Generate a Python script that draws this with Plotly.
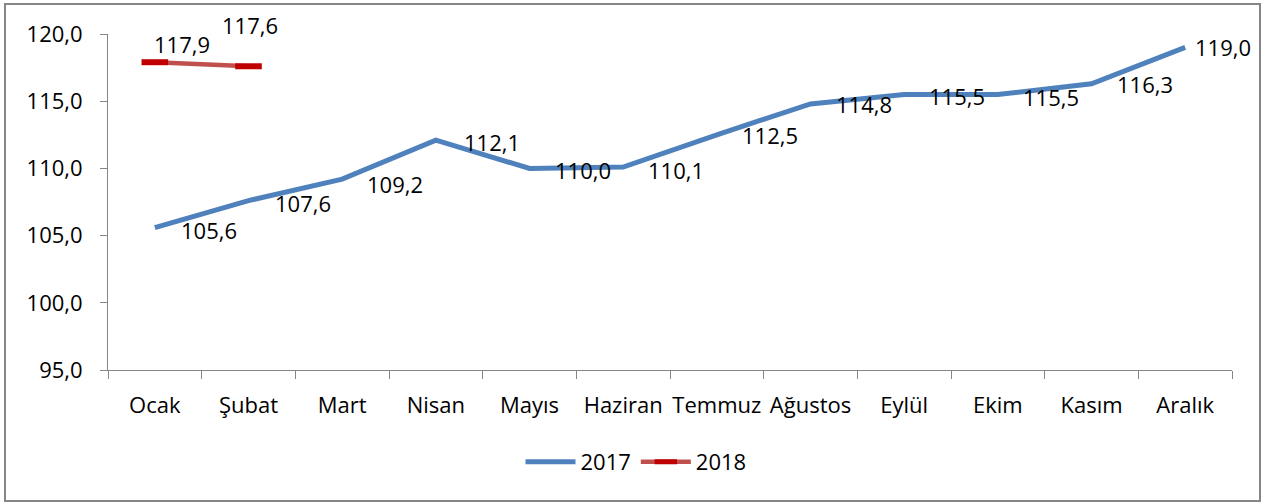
import plotly.graph_objects as go

months = ["Ocak", "Şubat", "Mart", "Nisan", "Mayıs", "Haziran", "Temmuz",
          "Ağustos", "Eylül", "Ekim", "Kasım", "Aralık"]
values_2017 = [105.6, 107.6, 109.2, 112.1, 110.0, 110.1, 112.5, 114.8, 115.5, 115.5, 116.3, 119.0]
values_2018 = [117.9, 117.6]
y_ticks = [95, 100, 105, 110, 115, 120]

# label offsets (pixels) - style only
off_2017_x = [24, 24, 23, 26, 23, 23, 23, 23, 23, 23, 23, 8]
off_2017_y = [-2, -2, -5, -2, -2, -3, 0, 0, -2, -3, 0, 0]
off_2018_x = [-3, -29]
off_2018_y = [18, 41]

FONT = "Open Sans"
FS = 22
GREY = "#868686"

def fmt(v):
    return f"{v:.1f}".replace(".", ",")

fig = go.Figure()
fig.add_trace(go.Scatter(
    x=months, y=values_2017, mode="lines", name="2017",
    line=dict(color="#4F81BD", width=5), hoverinfo="skip"))
fig.add_trace(go.Scatter(
    x=months[:len(values_2018)], y=values_2018, mode="lines+markers", name="2018",
    line=dict(color="#C0504D", width=4.5),
    marker=dict(symbol="line-ew", size=19, color="#C00000",
                line=dict(color="#C00000", width=6)),
    hoverinfo="skip"))

annotations = []
for i, (m, v) in enumerate(zip(months, values_2017)):
    annotations.append(dict(x=m, y=v, text=fmt(v), showarrow=False,
                            xanchor="left", yanchor="middle",
                            xshift=off_2017_x[i], yshift=off_2017_y[i],
                            font=dict(family=FONT, size=FS, color="black")))
for i, (m, v) in enumerate(zip(months, values_2018)):
    annotations.append(dict(x=m, y=v, text=fmt(v), showarrow=False,
                            xanchor="left", yanchor="middle",
                            xshift=off_2018_x[i], yshift=off_2018_y[i],
                            font=dict(family=FONT, size=FS, color="black")))

L, R, T, B = 108, 36, 34, 134
W, H = 1268, 504
pw, ph = W - L - R, H - T - B

def px_x(p):
    return (p - L) / pw

def px_y(p):
    return (H - B - p) / ph

fig.update_layout(
    width=W, height=H,
    margin=dict(l=L, r=R, t=T, b=B, pad=0, autoexpand=False),
    paper_bgcolor="white", plot_bgcolor="white",
    separators=",.",
    font=dict(family=FONT, size=FS, color="black"),
    showlegend=True,
    legend=dict(orientation="h", x=px_x(636), xanchor="center",
                y=px_y(462), yanchor="middle",
                font=dict(family=FONT, size=FS, color="black"),
                bgcolor="rgba(0,0,0,0)", itemwidth=50, tracegroupgap=0),
    annotations=annotations,
    shapes=[dict(type="rect", xref="paper", yref="paper",
                 x0=px_x(5), x1=px_x(1260), y0=px_y(501), y1=px_y(4),
                 line=dict(color=GREY, width=2), fillcolor="rgba(0,0,0,0)",
                 layer="below")],
)
fig.update_xaxes(
    type="category", showgrid=False, showline=True, linecolor=GREY, linewidth=1,
    ticks="outside", tickson="boundaries", ticklen=8, tickcolor=GREY,
    tickangle=0, ticklabelstandoff=16,
    tickfont=dict(family=FONT, size=FS, color="black"),
    range=[-0.5, len(months) - 0.5], zeroline=False, automargin=False)
fig.update_yaxes(
    range=[95, 120], tickvals=y_ticks, tickformat=".1f",
    showgrid=False, showline=True, linecolor=GREY, linewidth=1,
    ticks="outside", ticklen=7, tickcolor=GREY, ticklabelstandoff=13,
    tickfont=dict(family=FONT, size=FS, color="black"), zeroline=False,
    automargin=False)

fig.write_html("out.html",
               config={"displayModeBar": False},
               post_script="document.body.style.margin='0px';document.body.style.overflow='hidden';")
